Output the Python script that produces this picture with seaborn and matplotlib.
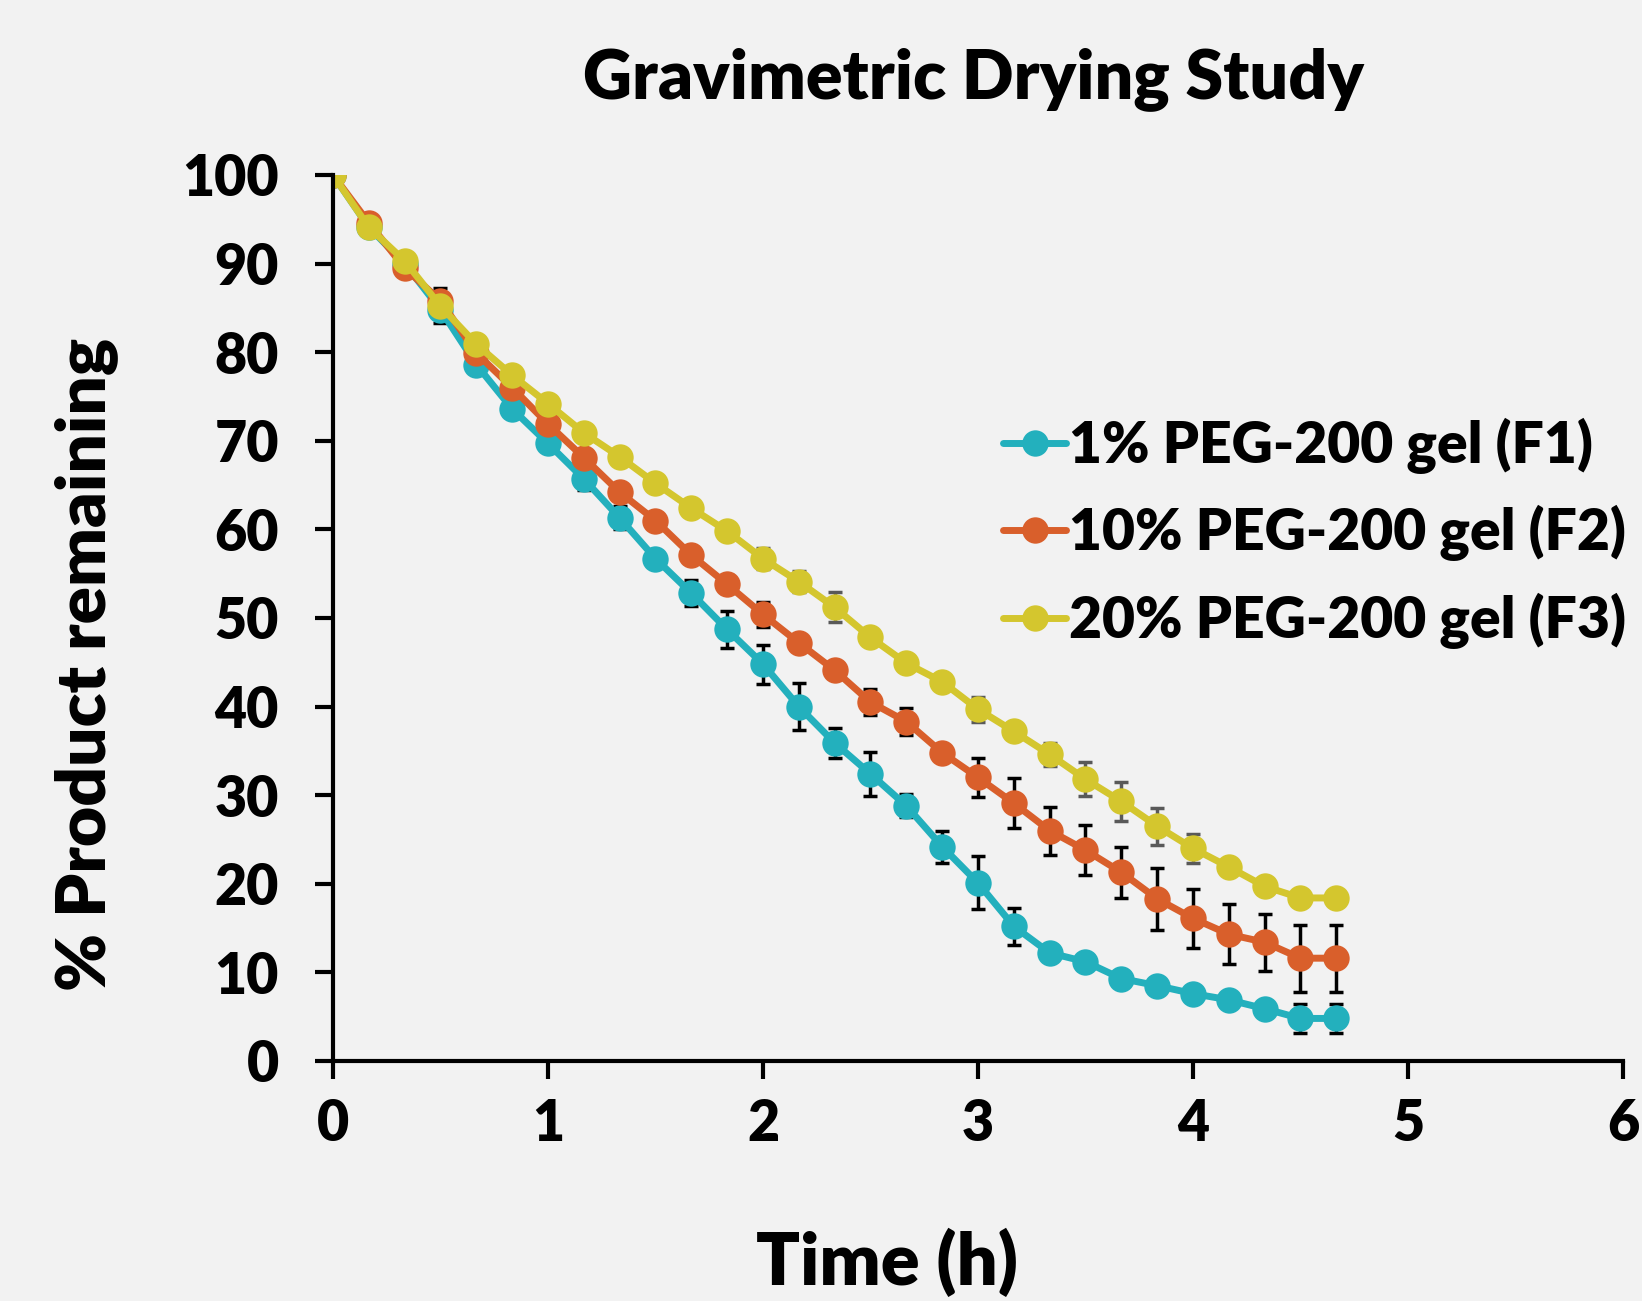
import numpy as np
import pandas as pd
import matplotlib
matplotlib.use("Agg")
import matplotlib.pyplot as plt
import seaborn as sns

# sampling times (minutes)
minutes = [0, 10, 20, 30, 40, 50, 60, 70, 80, 90, 100, 110, 120, 130, 140,
           150, 160, 170, 180, 190, 200, 210, 220, 230, 240, 250, 260, 270, 280]

f1_mean = [100, 94.1, 90.0, 84.8, 78.6, 73.6, 69.7, 65.7, 61.3, 56.7, 52.8, 48.7, 44.8, 40.0, 35.9,
           32.4, 28.8, 24.2, 20.1, 15.2, 12.2, 11.2, 9.3, 8.5, 7.6, 6.9, 5.9, 4.8, 4.8]
f1_err = [0, 0.5, 0.5, 1.5, 0.8, 0.8, 0.8, 1.3, 1.3, 0.7, 1.5, 2.1, 2.2, 2.7, 1.7,
          2.5, 1.3, 1.8, 3.0, 2.1, 0.5, 0.8, 0.8, 0.6, 0.6, 0.8, 0.6, 1.6, 1.6]

f2_mean = [100, 94.6, 89.5, 85.8, 79.9, 76.0, 71.9, 68.1, 64.2, 61.0, 57.1, 53.8, 50.4, 47.2, 44.1,
           40.5, 38.3, 34.8, 32.0, 29.1, 26.0, 23.8, 21.3, 18.3, 16.1, 14.3, 13.4, 11.6, 11.6]
f2_err = [0, 0.8, 0.5, 1.5, 0.6, 0.6, 0.6, 0.5, 0.5, 0.5, 0.5, 1.0, 1.4, 0.7, 0.5,
          1.5, 1.5, 0.5, 2.2, 2.8, 2.7, 2.8, 2.9, 3.5, 3.3, 3.4, 3.2, 3.8, 3.8]

f3_mean = [100, 94.1, 90.3, 85.2, 80.9, 77.4, 74.2, 70.9, 68.2, 65.2, 62.4, 59.8, 56.7, 54.1, 51.2,
           47.8, 44.9, 42.8, 39.7, 37.2, 34.6, 31.8, 29.3, 26.5, 24.0, 21.9, 19.7, 18.4, 18.4]
f3_err = [0, 0.5, 0.5, 0.5, 0.5, 0.5, 0.5, 0.5, 0.5, 0.5, 0.5, 0.5, 1.2, 1.2, 1.7,
          0.5, 0.5, 0.6, 1.4, 0.5, 1.3, 1.9, 2.2, 2.1, 1.6, 0.5, 0.5, 0.6, 0.6]

labels = ["1% PEG-200 gel (F1)", "10% PEG-200 gel (F2)", "20% PEG-200 gel (F3)"]
colors = ["#23b0bd", "#d95f2b", "#d4c62e"]
err_colors = ["black", "black", "#595959"]

hours = np.array(minutes) / 60.0
means = [f1_mean, f2_mean, f3_mean]
errs = [f1_err, f2_err, f3_err]

df = pd.concat([pd.DataFrame({"Time": hours, "Remaining": m, "Formulation": lab})
                for m, lab in zip(means, labels)], ignore_index=True)

sns.set_theme(style="ticks")
plt.rcParams["font.family"] = ["Lato", "DejaVu Sans"]
plt.rcParams["font.weight"] = "heavy"
for k in ["text.color", "axes.labelcolor", "xtick.color", "ytick.color"]:
    plt.rcParams[k] = "black"

bg = "#f2f2f2"
fig = plt.figure(figsize=(16.42, 13.01), dpi=100, facecolor=bg)
ax = fig.add_axes([0.2028, 0.1845, 0.7856, 0.681])
ax.set_facecolor(bg)

# error bars behind the lines
for m, e, ec in zip(means, errs, err_colors):
    ax.errorbar(hours, m, yerr=e, fmt="none", ecolor=ec, elinewidth=2.5,
                capsize=5, capthick=2.5, zorder=1)

sns.lineplot(data=df, x="Time", y="Remaining", hue="Formulation",
             palette=colors, marker="o", markersize=19, markeredgewidth=0,
             linewidth=5, ax=ax, zorder=2)

ax.set_xlim(0, 6)
ax.set_ylim(0, 100)
ax.set_xticks(range(0, 7))
ax.set_yticks(range(0, 101, 10))
ax.tick_params(axis="both", direction="out", length=13, width=3, color="black",
               labelsize=40)
ax.tick_params(axis="y", pad=26)
ax.tick_params(axis="x", pad=14)
for lab in ax.get_xticklabels() + ax.get_yticklabels():
    lab.set_fontweight("heavy")
for s in ["left", "bottom"]:
    ax.spines[s].set_linewidth(3)
    ax.spines[s].set_color("black")
sns.despine(ax=ax)

ax.set_xlabel("Time (h)", fontsize=52, fontweight="heavy", va="bottom")
ax.xaxis.set_label_coords(0.4295, -0.266)
ax.set_ylabel("% Product remaining", fontsize=50, fontweight="heavy", va="center")
ax.yaxis.set_label_coords(-0.1915, 0.447)
fig.text(0.593, 0.939, "Gravimetric Drying Study", fontsize=49, fontweight="heavy",
         ha="center", va="center")

leg = ax.legend(loc="upper left", bbox_to_anchor=(0.502, 0.752), frameon=False,
                fontsize=41, handlelength=1.1, handletextpad=0.05, labelspacing=0.55,
                borderaxespad=0)
for t in leg.get_texts():
    t.set_fontweight("heavy")

fig.savefig("out.png", dpi=100, facecolor=bg)
